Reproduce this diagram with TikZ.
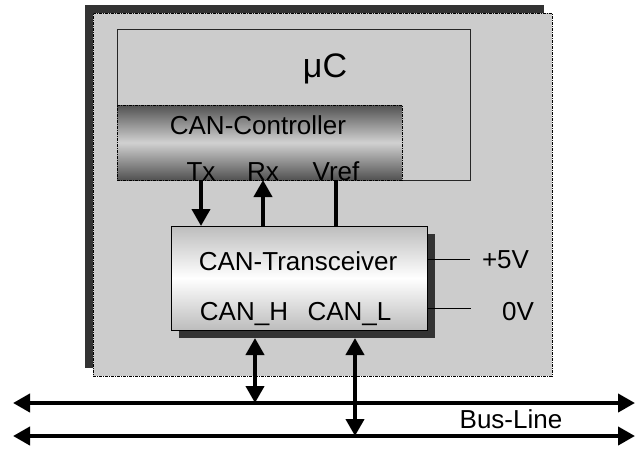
\documentclass[tikz,border=0pt]{standalone}
\usepackage{fontspec}
\setmainfont{Liberation Sans}
\usetikzlibrary{arrows.meta,shadows}
\begin{document}
\begin{tikzpicture}[x=1pt,y=-1pt,
  lbl/.style={font=\fontsize{26}{30}\selectfont, inner sep=0pt, anchor=base},
  boardbox/.style={rectangle, inner sep=0pt, outer sep=0pt, fill=black!20,
    draw=black, line width=1pt, dash pattern=on 3pt off 1pt on 1pt off 1pt,
    general shadow={fill=black!80, shadow xshift=-8pt, shadow yshift=8pt}},
  mcbox/.style={rectangle, inner sep=0pt, outer sep=0pt, draw=black!85, line width=1pt},
  ctrlbox/.style={rectangle, inner sep=0pt, outer sep=0pt, draw=black, line width=1pt,
    dash pattern=on 3pt off 1pt on 1pt off 1pt,
    top color=black!68, bottom color=black!68, middle color=black!18},
  trxbox/.style={rectangle, inner sep=0pt, outer sep=0pt, draw=black, line width=1pt,
    top color=black!26, bottom color=black!26, middle color=white,
    general shadow={fill=black!80, shadow xshift=8pt, shadow yshift=-8pt}},
  sig/.style={line width=4pt, -{Triangle[length=17pt,width=18pt]}},
  dsig/.style={line width=4pt, {Triangle[length=17pt,width=18pt]}-{Triangle[length=17pt,width=18pt]}},
  wire/.style={line width=4pt},
  thin wire/.style={line width=1pt},
]
\useasboundingbox[fill=white] (0,0) rectangle (636,448);

% main board
\node[boardbox, minimum width=459pt, minimum height=363pt] (board) at (322.5,194.5) {};
% microcontroller
\node[mcbox, minimum width=353pt, minimum height=151pt] (mc) at (293.5,104.5) {};
\node[lbl, font=\fontsize{34}{40}\selectfont] (mu) at (325,77) {μC};
% CAN controller
\node[ctrlbox, minimum width=285pt, minimum height=75pt] (ctrl) at (259.5,142.5) {};
\node[lbl] (ctrltxt) at (258,134) {CAN-Controller};
\node[lbl] (tx) at (201,180) {Tx};
\node[lbl] (rx) at (263,180) {Rx};
\node[lbl] (vref) at (336,180) {Vref};

% transceiver
\node[trxbox, minimum width=256pt, minimum height=104pt] (trx) at (299,278) {};
\node[lbl] (trxtxt) at (298,270) {CAN-Transceiver};
\node[lbl] (canh) at (244,320) {CAN\_H};
\node[lbl] (canl) at (349.5,320) {CAN\_L};

% controller <-> transceiver
\draw[sig] (tx |- ctrl.south) -- (tx |- trx.north);
\draw[sig] (rx |- trx.north) -- (rx |- ctrl.south);
\draw[wire] (vref |- ctrl.south) -- (vref |- trx.north);

% supply
\node[lbl] (p5) at (505.5,268) {+5V};
\node[lbl] (gnd) at (518,320) {0V};
\coordinate (p5end) at (470,259);
\coordinate (gndend) at (471,308);
\draw[thin wire] (p5end -| trx.east) -- (p5end);
\draw[thin wire] (gndend -| trx.east) -- (gndend);

% bus lines
\coordinate (busHl) at (13,403);
\coordinate (busHr) at (635,403);
\coordinate (busLl) at (13,436);
\coordinate (busLr) at (635,436);
\draw[dsig] (busHl) -- (busHr);
\draw[dsig] (busLl) -- (busLr);
\node[lbl] (buslbl) at (511,428) {Bus-Line};

% transceiver <-> bus
\coordinate (hpin) at (255,338);
\coordinate (lpin) at (355,338);
\draw[dsig] (hpin) -- (hpin |- busHl);
\draw[dsig] (lpin) -- (lpin |- busLl);
\end{tikzpicture}
\end{document}
